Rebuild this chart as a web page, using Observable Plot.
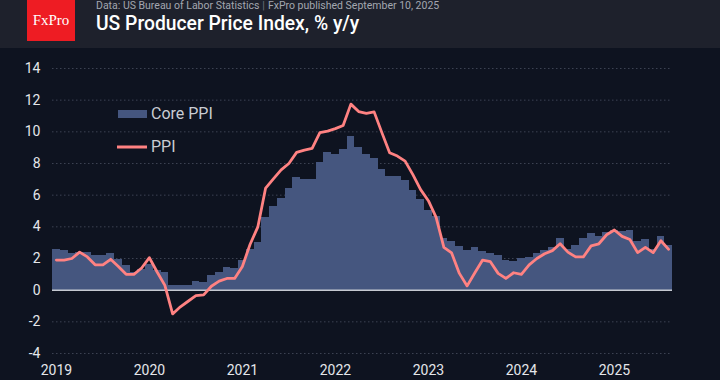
<!DOCTYPE html>
<html><head><meta charset="utf-8">
<script src="https://cdn.jsdelivr.net/npm/d3@7"></script>
<script src="https://cdn.jsdelivr.net/npm/@observablehq/plot@0.6"></script>
<style>
html,body{margin:0;padding:0;background:#0e1320;}
#wrap{position:relative;width:720px;height:380px;overflow:hidden;background:#0e1320;font-family:Roboto,sans-serif;}
#header{position:absolute;left:0;top:0;width:720px;height:48px;background:#1e212c;}
#logo{position:absolute;left:27px;top:0;width:48px;height:41px;background:#ee1c23;color:#fff;font-family:"Liberation Serif","DejaVu Serif",serif;font-size:15px;line-height:41px;text-align:center;}
#src{position:absolute;left:96px;top:0px;font-size:10.5px;color:#a3a7b0;line-height:12px;white-space:nowrap;}
#src .sep{color:#6d717a;padding:0 3px;}
#title{position:absolute;left:96px;top:12px;font-size:19.3px;font-weight:500;color:#fff;line-height:24px;white-space:nowrap;}
#chart{position:absolute;left:0;top:48px;}
#legend{position:absolute;left:0;top:0;}
</style>
</head><body>
<div id="wrap">
  <div id="header">
    <div id="logo">FxPro</div>
    <div id="src">Data: US Bureau of Labor Statistics<span class="sep">|</span>FxPro published September 10, 2025</div>
    <div id="title">US Producer Price Index, % y/y</div>
  </div>
  <div id="chart"></div>
  <svg id="legend" width="720" height="380"></svg>
</div>
<script>
const years = ["2019","2020","2021","2022","2023","2024","2025"];
const yTicks = [-4,-2,0,2,4,6,8,10,12,14];
const seriesNames = ["Core PPI","PPI"];
// monthly, Jan 2019 .. Aug 2025, % y/y
const corePPI = [
  2.6,2.5,2.3,2.4,2.35,2.2,2.2,2.3,1.95,1.56,1.12,1.3,
  1.6,1.23,1.1,0.27,0.27,0.27,0.55,0.48,0.95,1.14,1.46,1.37,
  1.9,2.58,3.0,4.6,5.3,5.8,6.4,7.1,7.0,7.0,8.04,8.7,
  8.6,8.9,9.7,9.02,8.6,8.3,7.6,7.2,7.2,6.93,6.3,5.7,
  5.04,4.65,3.28,3.07,2.77,2.49,2.67,2.46,2.3,2.17,1.9,1.8,
  1.98,2.08,2.29,2.5,2.69,3.28,2.59,2.79,3.28,3.6,3.39,3.65,
  3.8,3.68,3.78,3.1,3.17,2.6,3.39,2.79
];
const ppi = [
  1.9,1.9,2.0,2.4,2.1,1.6,1.6,1.95,1.5,1.0,1.0,1.4,
  2.05,1.15,0.3,-1.5,-1.05,-0.7,-0.35,-0.3,0.25,0.57,0.74,0.74,
  1.5,2.9,4.0,6.45,7.03,7.6,8.0,8.7,8.85,8.95,9.95,10.05,
  10.2,10.4,11.75,11.28,11.17,11.26,9.95,8.68,8.47,8.15,7.3,6.35,
  5.65,4.6,2.7,2.35,1.06,0.27,1.1,1.9,1.8,1.06,0.74,1.1,
  1.0,1.6,2.0,2.3,2.5,2.93,2.4,2.1,2.1,2.8,2.93,3.5,
  3.8,3.4,3.2,2.37,2.7,2.37,3.12,2.58
];

const AREA = "#45567f", LINE = "#ff8282", TXT = "#e4e6ea";
const data = corePPI.map((c, i) => ({i, core: c, ppi: ppi[i]}));
const yearTicks = years.map((y, k) => k * 12 + 0.5);

const chart = Plot.plot({
  width: 720,
  height: 332,
  marginLeft: 52,
  marginRight: 48,
  marginTop: 20,
  marginBottom: 27,
  style: {background: "transparent", color: TXT, fontFamily: "Roboto, sans-serif"},
  x: {type: "linear", domain: [0, data.length]},
  y: {domain: [-4, 14]},
  marks: [
    Plot.gridY(yTicks, {stroke: "#3c4252", strokeOpacity: 1, strokeDasharray: "1.5,2.5"}),
    Plot.rectY(data, {x1: "i", x2: d => d.i + 1, y: "core", fill: AREA, shapeRendering: "crispEdges", inset: 0}),
    Plot.ruleY([0], {stroke: "#c5c9d1", strokeWidth: 1.5}),
    Plot.line(data, {x: d => d.i + 0.5, y: "ppi", stroke: LINE, strokeWidth: 2.8, strokeLinejoin: "round"}),
    Plot.axisY(yTicks, {tickSize: 0, tickPadding: 12, fontSize: 14, tickFormat: d => String(d), label: null}),
    Plot.axisX(yearTicks, {tickSize: 0, tickPadding: 12, fontSize: 14, tickFormat: (d) => years[Math.round((d - 0.5) / 12)], label: null})
  ]
});
document.getElementById("chart").appendChild(chart);

// legend
const lg = d3.select("#legend");
lg.append("rect").attr("x", 118).attr("y", 110).attr("width", 29).attr("height", 8).attr("fill", AREA);
lg.append("text").attr("x", 151).attr("y", 119).attr("fill", "#c9ccd3").attr("font-size", 16).attr("font-family", "Roboto, sans-serif").text(seriesNames[0]);
lg.append("line").attr("x1", 117).attr("x2", 147).attr("y1", 147).attr("y2", 147).attr("stroke", LINE).attr("stroke-width", 3);
lg.append("text").attr("x", 151).attr("y", 152).attr("fill", "#c9ccd3").attr("font-size", 16).attr("font-family", "Roboto, sans-serif").text(seriesNames[1]);
</script>
</body></html>
